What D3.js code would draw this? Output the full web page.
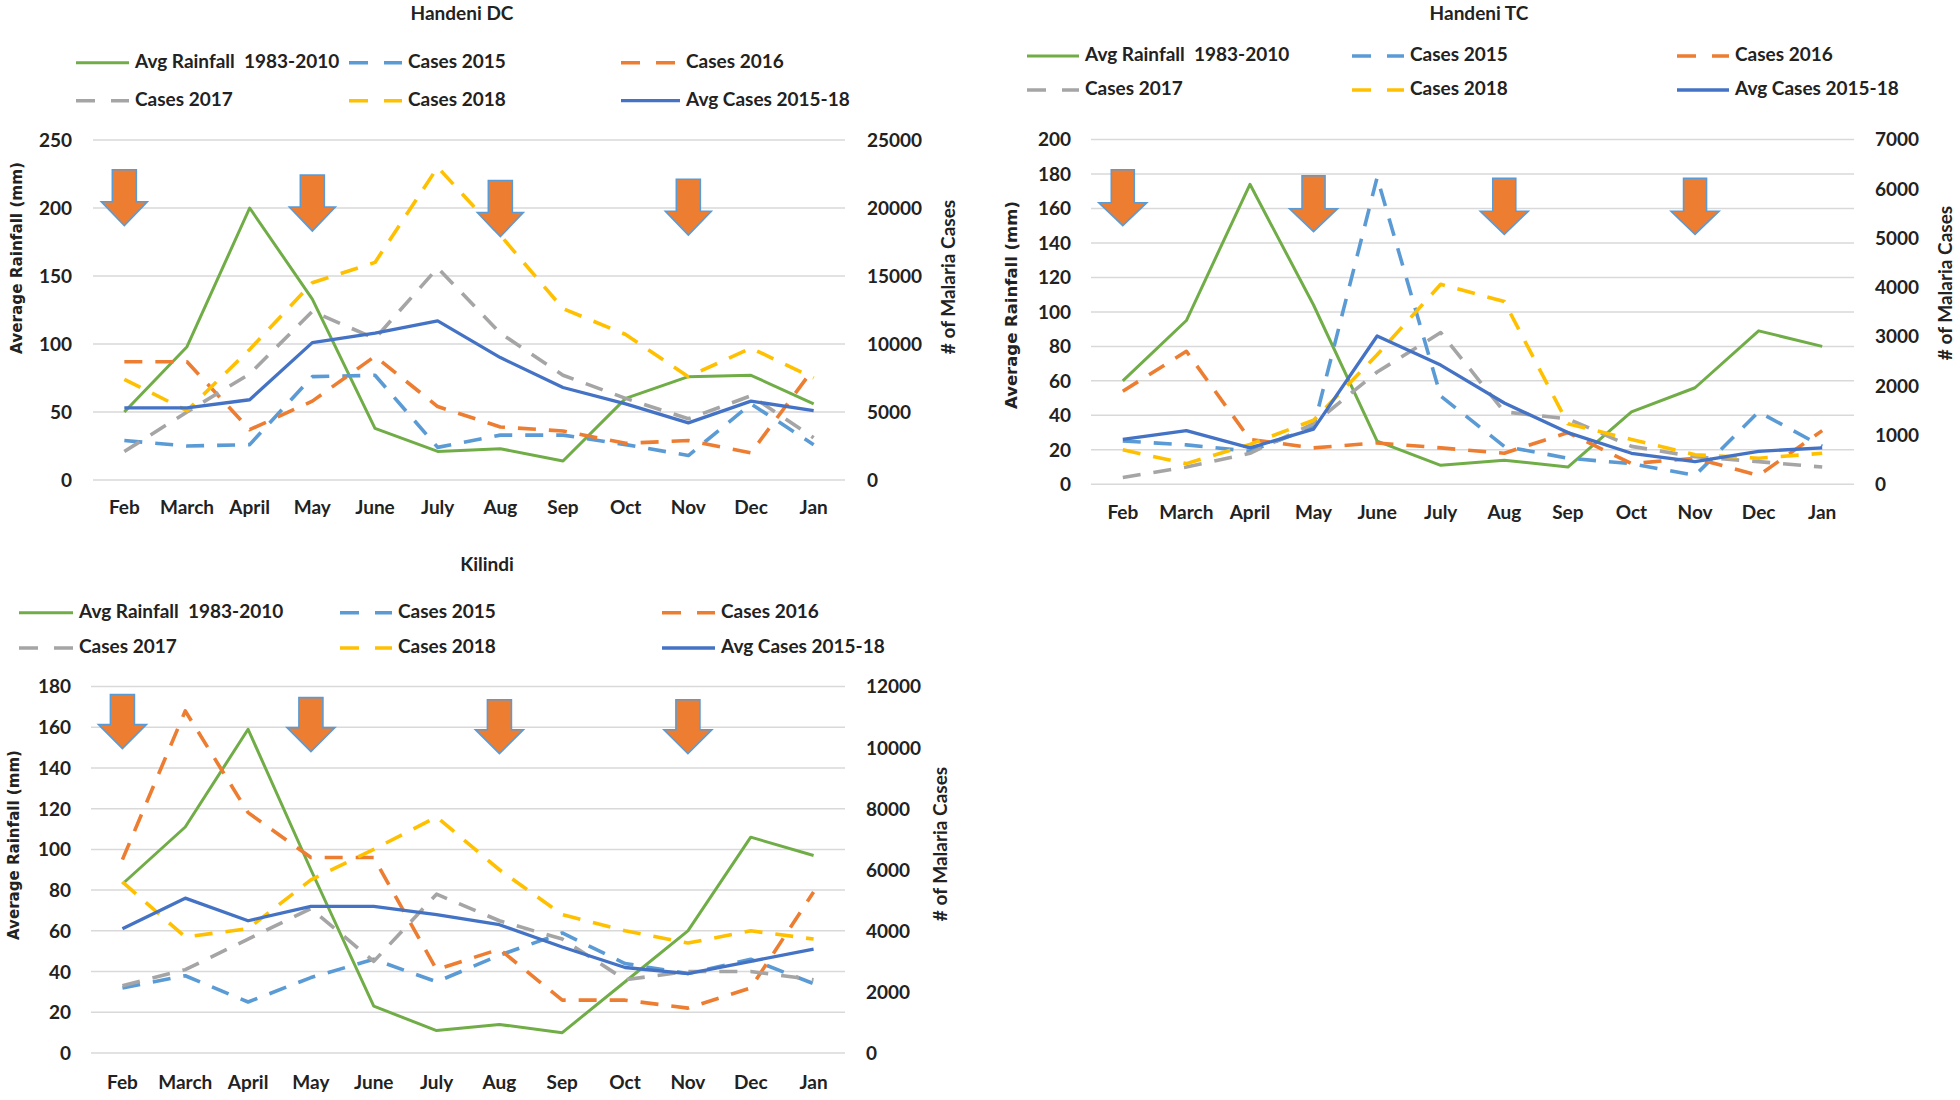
<!DOCTYPE html>
<html><head><meta charset="utf-8">
<script src="https://cdn.jsdelivr.net/npm/d3@7"></script>
<style>
body{margin:0;background:#fff}
svg{display:block}
text{font-family:Lato,'Open Sans',sans-serif;font-weight:700;fill:#222;white-space:pre}
</style>
</head><body>
<svg id="c" width="1960" height="1100"></svg>
<script>
// ---------- DATA ----------
const months = ["Feb","March","April","May","June","July","Aug","Sep","Oct","Nov","Dec","Jan"];
const legendLabels = ["Avg Rainfall  1983-2010","Cases 2015","Cases 2016","Cases 2017","Cases 2018","Avg Cases 2015-18"];
const arrowMonths = ["Feb","May","Aug","Nov"];

// Handeni DC
const dcRain  = [50,98,200,133,38,21,23,14,60,76,77,56];
const dc2015  = [2900,2500,2600,7600,7700,2400,3300,3300,2600,1800,5600,2600];
const dc2016  = [8700,8700,3700,5800,9100,5400,3900,3600,2700,2900,2000,8200];
const dc2017  = [2100,5000,7800,12400,10400,15600,10800,7700,6000,4500,6200,3100];
const dc2018  = [7400,5100,9600,14500,16000,23000,18000,12600,10700,7600,9700,7500];
const dcAvg   = [5300,5300,5900,10100,10800,11700,9000,6800,5600,4200,5800,5100];
const dcLeftTicks  = [0,50,100,150,200,250];
const dcRightTicks = [0,5000,10000,15000,20000,25000];
const dcArrowTips  = [187,183,179,180];

// Handeni TC
const tcRain  = [60,95,174,104,25,11,14,10,42,56,89,80];
const tc2015  = [880,800,670,1160,6230,1790,770,530,420,180,1470,770];
const tc2016  = [1890,2700,910,740,840,740,630,1050,420,530,180,1090];
const tc2017  = [140,350,630,1230,2280,3080,1470,1330,770,560,460,350];
const tc2018  = [700,420,810,1300,2630,4060,3710,1230,910,600,530,630];
const tcAvg   = [910,1090,740,1120,3010,2420,1650,1050,630,460,670,740];
const tcLeftTicks  = [0,20,40,60,80,100,120,140,160,180,200];
const tcRightTicks = [0,1000,2000,3000,4000,5000,6000,7000];
const tcArrowTips  = [150,146.5,145,145];

// Kilindi
const kiRain  = [83,111,159,90,23,11,14,10,35,60,106,97];
const ki2015  = [2130,2530,1670,2470,3070,2330,3200,3930,2930,2600,3070,2270];
const ki2016  = [6330,11200,7870,6400,6400,2730,3400,1730,1730,1470,2130,5270];
const ki2017  = [2200,2730,3730,4730,3000,5200,4330,3730,2400,2670,2670,2400];
const ki2018  = [5600,3800,4070,5670,6670,7730,6000,4530,4000,3600,4000,3730];
const kiAvg   = [4070,5070,4330,4800,4800,4530,4200,3470,2800,2600,3000,3400];
const kiLeftTicks  = [0,20,40,60,80,100,120,140,160,180];
const kiRightTicks = [0,2000,4000,6000,8000,10000,12000];
const kiArrowTips  = [149.5,148,147,147];

// ---------- STYLE ----------
const colors = ["#70AD47","#5B9BD5","#ED7D31","#A5A5A5","#FFC000","#4472C4"];
const dashed = [false,true,true,true,true,false];
const widths = [3,3.6,3.6,3.6,3.6,3.3];

const panels = [
  {title:"Handeni DC", rain:dcRain, cases:[dc2015,dc2016,dc2017,dc2018,dcAvg],
   lt:dcLeftTicks, rt:dcRightTicks, tips:dcArrowTips,
   x0:93, x1:845, yT:140, yB:480, lLabX:72, rLabX:867, xLabY:508,
   tX:462, tY:15, ltX:17, ltY:258, ltLen:192, rtX:950, rtY:277,
   legY:[62.7,100.7], legLX:[76,349,621], legTX:[135,408,686],
   arrow:{sw:24, hw:46, sh:32, hh:24}},
  {title:"Handeni TC", rain:tcRain, cases:[tc2015,tc2016,tc2017,tc2018,tcAvg],
   lt:tcLeftTicks, rt:tcRightTicks, tips:tcArrowTips,
   x0:1091, x1:1854, yT:139.5, yB:484.3, lLabX:1071, rLabX:1875, xLabY:513,
   tX:1479, tY:15, ltX:1012, ltY:305, ltLen:208, rtX:1947, rtY:283,
   legY:[56,90], legLX:[1027,1352,1677], legTX:[1085,1410,1735],
   arrow:{sw:23, hw:48, sh:33, hh:23}},
  {title:"Kilindi", rain:kiRain, cases:[ki2015,ki2016,ki2017,ki2018,kiAvg],
   lt:kiLeftTicks, rt:kiRightTicks, tips:kiArrowTips,
   x0:91, x1:845, yT:686.5, yB:1053, lLabX:71, rLabX:866, xLabY:1083,
   tX:487, tY:566, ltX:14, ltY:845, ltLen:190, rtX:942, rtY:844,
   legY:[612.7,648], legLX:[19,340,662], legTX:[79,398,721],
   arrow:{sw:24, hw:48, sh:30, hh:24}}
];

const svg = d3.select("#c");
const fmt = d3.format("d");

panels.forEach(p => {
  const g = svg.append("g");
  const x = d3.scaleBand().domain(months).range([p.x0,p.x1]);
  const xc = m => x(m) + x.bandwidth()/2;
  const yL = d3.scaleLinear().domain([0, d3.max(p.lt)]).range([p.yB,p.yT]);
  const yR = d3.scaleLinear().domain([0, d3.max(p.rt)]).range([p.yB,p.yT]);

  // gridlines
  g.append("g").selectAll("line").data(p.lt).join("line")
    .attr("x1",p.x0).attr("x2",p.x1)
    .attr("y1",d=>yL(d)).attr("y2",d=>yL(d))
    .attr("stroke","#d9d9d9").attr("stroke-width",1.5);

  // left axis labels
  const axL = g.append("g").attr("transform",`translate(${p.lLabX},0)`)
    .call(d3.axisLeft(yL).tickValues(p.lt).tickFormat(fmt).tickSize(0).tickPadding(0));
  axL.select(".domain").remove();
  axL.selectAll("text").style("font-size","19px").style("font-family","Lato,sans-serif").attr("fill","#222").attr("dy","0.34em");

  // right axis labels
  const axR = g.append("g").attr("transform",`translate(${p.rLabX},0)`)
    .call(d3.axisRight(yR).tickValues(p.rt).tickFormat(fmt).tickSize(0).tickPadding(0));
  axR.select(".domain").remove();
  axR.selectAll("text").style("font-size","19px").style("font-family","Lato,sans-serif").attr("fill","#222").attr("dy","0.34em");

  // x axis labels
  const axX = g.append("g").attr("transform",`translate(0,${p.xLabY})`)
    .call(d3.axisBottom(x).tickSize(0).tickPadding(0));
  axX.select(".domain").remove();
  axX.selectAll("text").style("font-size","19px").style("font-family","Lato,sans-serif").attr("fill","#222").attr("dy","0.34em");

  // titles
  g.append("text").attr("x",p.tX).attr("y",p.tY).attr("text-anchor","middle")
    .attr("dominant-baseline","middle").style("font-size","19px").text(p.title);
  g.append("text").attr("transform",`translate(${p.ltX},${p.ltY}) rotate(-90)`)
    .attr("text-anchor","middle").attr("dominant-baseline","middle")
    .style("font-family","'DejaVu Sans',sans-serif").style("font-size","16px")
    .attr("textLength",p.ltLen).attr("lengthAdjust","spacingAndGlyphs")
    .text("Average Rainfall (mm)");
  g.append("text").attr("transform",`translate(${p.rtX},${p.rtY}) rotate(-90)`)
    .attr("text-anchor","middle").attr("dominant-baseline","middle")
    .style("font-size","19px").text("# of Malaria Cases");

  // lines
  const lineL = d3.line().x((d,i)=>xc(months[i])).y(d=>yL(d));
  const lineR = d3.line().x((d,i)=>xc(months[i])).y(d=>yR(d));
  const all = [p.rain, ...p.cases];
  all.forEach((s,k) => {
    g.append("path").datum(s)
      .attr("d", k===0 ? lineL : lineR)
      .attr("fill","none").attr("stroke",colors[k]).attr("stroke-width",widths[k])
      .attr("stroke-dasharray", dashed[k] ? "18,13" : null)
      .attr("stroke-linejoin","round");
  });

  // legend
  legendLabels.forEach((lab,k) => {
    const row = Math.floor(k/3), col = k%3;
    const lx = p.legLX[col], tx = p.legTX[col], ly = p.legY[row];
    g.append("line").attr("x1",lx).attr("x2",tx-6).attr("y1",ly).attr("y2",ly)
      .attr("stroke",colors[k]).attr("stroke-width",widths[k])
      .attr("stroke-dasharray", dashed[k] ? "19,16" : null);
    g.append("text").attr("x",tx).attr("y",ly).attr("dominant-baseline","middle")
      .style("font-size","19px").text(lab);
  });

  // arrows
  const a = p.arrow;
  arrowMonths.forEach((m,i) => {
    const cx = xc(m), ty = yL(p.tips[i]);
    const top = ty - a.hh - a.sh, hy = ty - a.hh;
    const pts = [[cx-a.sw/2,top],[cx+a.sw/2,top],[cx+a.sw/2,hy],[cx+a.hw/2,hy],
                 [cx,ty],[cx-a.hw/2,hy],[cx-a.sw/2,hy]];
    g.append("path").attr("d","M"+pts.map(q=>q.join(",")).join("L")+"Z")
      .attr("fill","#ED7D31").attr("stroke","#5B9BD5").attr("stroke-width",1.6)
      .attr("stroke-linejoin","miter");
  });
});
</script>
</body></html>
